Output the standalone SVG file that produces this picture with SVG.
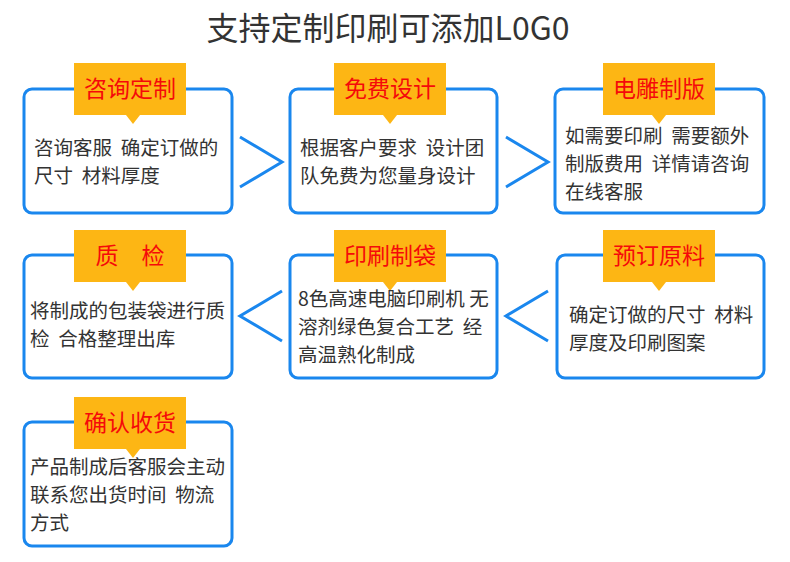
<svg xmlns="http://www.w3.org/2000/svg" width="790" height="562" viewBox="0 0 790 562">
<style>
.box{fill:#fff;stroke:#1a87ee;stroke-width:3}
.tab{fill:#fdb614}
.tt{font-family:"Noto Sans CJK SC",sans-serif;font-size:23px;fill:#f50a0a;text-anchor:middle}
.bt{font-family:"Noto Sans CJK SC",sans-serif;font-size:19.5px;fill:#333;white-space:pre}
.ar{fill:none;stroke:#1a87ee;stroke-width:3}
</style>
<rect width="790" height="562" fill="#fff"/>
<text x="388" y="40" font-family="Noto Sans CJK SC,sans-serif" font-size="32" fill="#333" text-anchor="middle">支持定制印刷可添加L0G0</text>
<g id="connectors">
<polyline class="ar" points="240,137 282,162 240,187"/>
<polyline class="ar" points="506,137 548,162 506,187"/>
<polyline class="ar" points="282,291 240,316 282,341"/>
<polyline class="ar" points="548,291 506,316 548,341"/>
</g>
<g id="n1"><rect class="box" x="24" y="89" width="208" height="124" rx="8"/><rect class="tab" x="74" y="63" width="112" height="52"/><polygon class="tab" points="126,115 140,115 133,124"/><text class="tt" x="130" y="97">咨询定制</text><text class="bt" x="34" y="155">咨询客服  确定订做的</text><text class="bt" x="34" y="183">尺寸  材料厚度</text></g>
<g id="n2"><rect class="box" x="290" y="89" width="207" height="124" rx="8"/><rect class="tab" x="334" y="63" width="112" height="52"/><polygon class="tab" points="383,115 397,115 390,124"/><text class="tt" x="390" y="97">免费设计</text><text class="bt" x="300" y="155">根据客户要求  设计团</text><text class="bt" x="300" y="183">队免费为您量身设计</text></g>
<g id="n3"><rect class="box" x="555" y="89" width="209" height="124" rx="8"/><rect class="tab" x="603" y="63" width="112" height="52"/><polygon class="tab" points="652,115 666,115 659,124"/><text class="tt" x="659" y="97">电雕制版</text><text class="bt" x="565" y="143">如需要印刷  需要额外</text><text class="bt" x="565" y="171">制版费用  详情请咨询</text><text class="bt" x="565" y="199">在线客服</text></g>
<g id="n4"><rect class="box" x="24" y="255" width="208" height="123" rx="8"/><rect class="tab" x="74" y="230" width="112" height="52"/><polygon class="tab" points="126,282 140,282 133,291"/><text class="tt" x="130" y="264">质　检</text><text class="bt" x="30" y="318">将制成的包装袋进行质</text><text class="bt" x="30" y="346">检  合格整理出库</text></g>
<g id="n5"><rect class="box" x="290" y="255" width="207" height="123" rx="8"/><rect class="tab" x="334" y="230" width="112" height="52"/><polygon class="tab" points="383,282 397,282 390,291"/><text class="tt" x="390" y="264">印刷制袋</text><text class="bt" x="298" y="306">8色高速电脑印刷机 无</text><text class="bt" x="298" y="334">溶剂绿色复合工艺  经</text><text class="bt" x="298" y="362">高温熟化制成</text></g>
<g id="n6"><rect class="box" x="557" y="255" width="207" height="123" rx="8"/><rect class="tab" x="603" y="230" width="112" height="52"/><polygon class="tab" points="652,282 666,282 659,291"/><text class="tt" x="659" y="264">预订原料</text><text class="bt" x="569" y="322">确定订做的尺寸  材料</text><text class="bt" x="569" y="350">厚度及印刷图案</text></g>
<g id="n7"><rect class="box" x="24" y="422" width="208" height="124" rx="8"/><rect class="tab" x="74" y="397" width="112" height="52"/><polygon class="tab" points="126,449 140,449 133,458"/><text class="tt" x="130" y="431">确认收货</text><text class="bt" x="30" y="474">产品制成后客服会主动</text><text class="bt" x="30" y="502">联系您出货时间  物流</text><text class="bt" x="30" y="530">方式</text></g>
</svg>
